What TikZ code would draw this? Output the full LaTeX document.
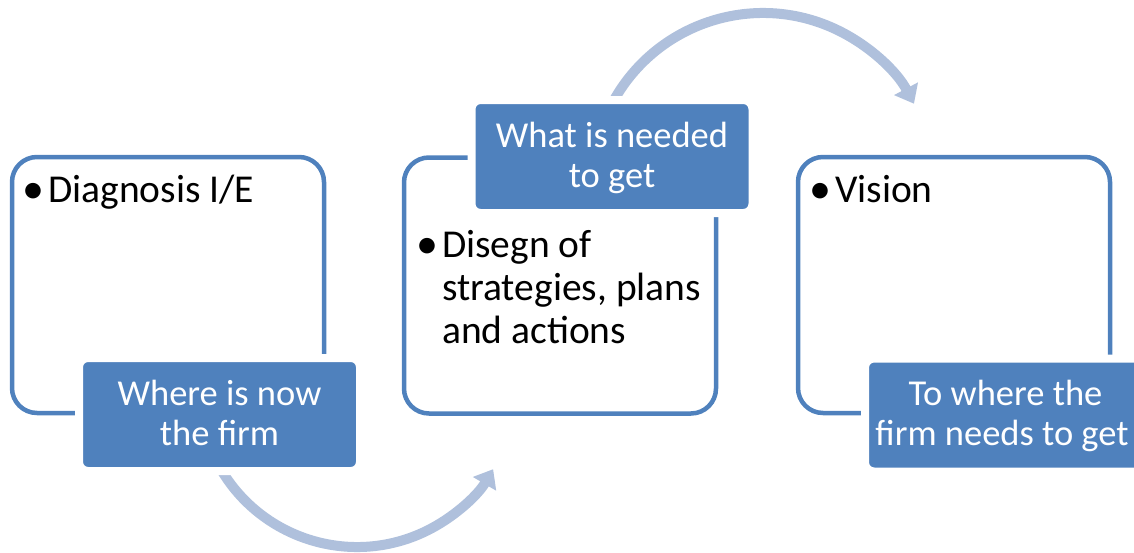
\documentclass[tikz,border=0pt]{standalone}
\usepackage{fontspec}
\setmainfont{Carlito}
\usetikzlibrary{arrows.meta}
\definecolor{frame}{HTML}{4F81BD}
\definecolor{arc}{HTML}{AFC0DC}
\begin{document}
\begin{tikzpicture}[x=1pt,y=-1pt,
  outlinebox/.style={draw=frame, line width=4.5pt, rounded corners=25pt, minimum width=312pt, minimum height=256pt, inner sep=0pt},
  labelbox/.style={fill=frame, draw=white, line width=8pt, rounded corners=9pt, minimum width=281pt, minimum height=113pt, inner sep=0pt},
  labeltext/.style={anchor=base, text=white, inner sep=0pt, font=\fontsize{36.5}{40}\selectfont},
  bodytext/.style={anchor=base west, text=black, inner sep=0pt, font=\fontsize{39.5}{43}\selectfont},
  bulletmark/.style={anchor=base, text=black, inner sep=0pt, font=\fontsize{44}{43}\selectfont},
  flow/.style={draw=arc, line width=10pt, -{Triangle[width=26pt,length=17pt]}}
]
\useasboundingbox (0,0) rectangle (1134,552);

% outline boxes
\node[outlinebox] (b1) at (168,285) {};
\node[outlinebox] (b2) at (560,285.5) {};
\node[outlinebox] (b3) at (954,285) {};

% arcs
\coordinate (c1) at (357,389);
\coordinate (c2) at (763,184);
\draw[flow] ([shift={(152:158)}]c1) arc[start angle=152, end angle=30.5, radius=158];
\draw[flow] ([shift={(206:171)}]c2) arc[start angle=206, end angle=332, radius=171];

% label boxes
\node[labelbox] (l1) at (219.5,414.5) {};
\node[labelbox] (l2) at (612,156.5) {};
\node[labelbox] (l3) at (1005.5,415) {};

% label texts
\node[labeltext] (l1a) at (219.5,405) {Where is now};
\node[labeltext] (l1b) at (219.5,445) {the firm};
\node[labeltext] (l2a) at (612,147) {What is needed};
\node[labeltext] (l2b) at (612,187) {to get};
\node[labeltext] (l3a) at (1005.5,405) {To where the};
\node[labeltext] (l3b) at (1002,445) {firm needs to get};

% body texts
\node[bulletmark] (d1) at (33,203) {•};
\node[bodytext] (t1) at (48,202) {Diagnosis I/E};
\node[bulletmark] (d2) at (427,258) {•};
\node[bodytext] (t2a) at (442,257) {Disegn of};
\node[bodytext] (t2b) at (442,300) {strategies, plans};
\node[bodytext] (t2c) at (442,343) {and actions};
\node[bulletmark] (d3) at (820,203) {•};
\node[bodytext] (t3) at (835,202) {Vision};
\end{tikzpicture}
\end{document}
